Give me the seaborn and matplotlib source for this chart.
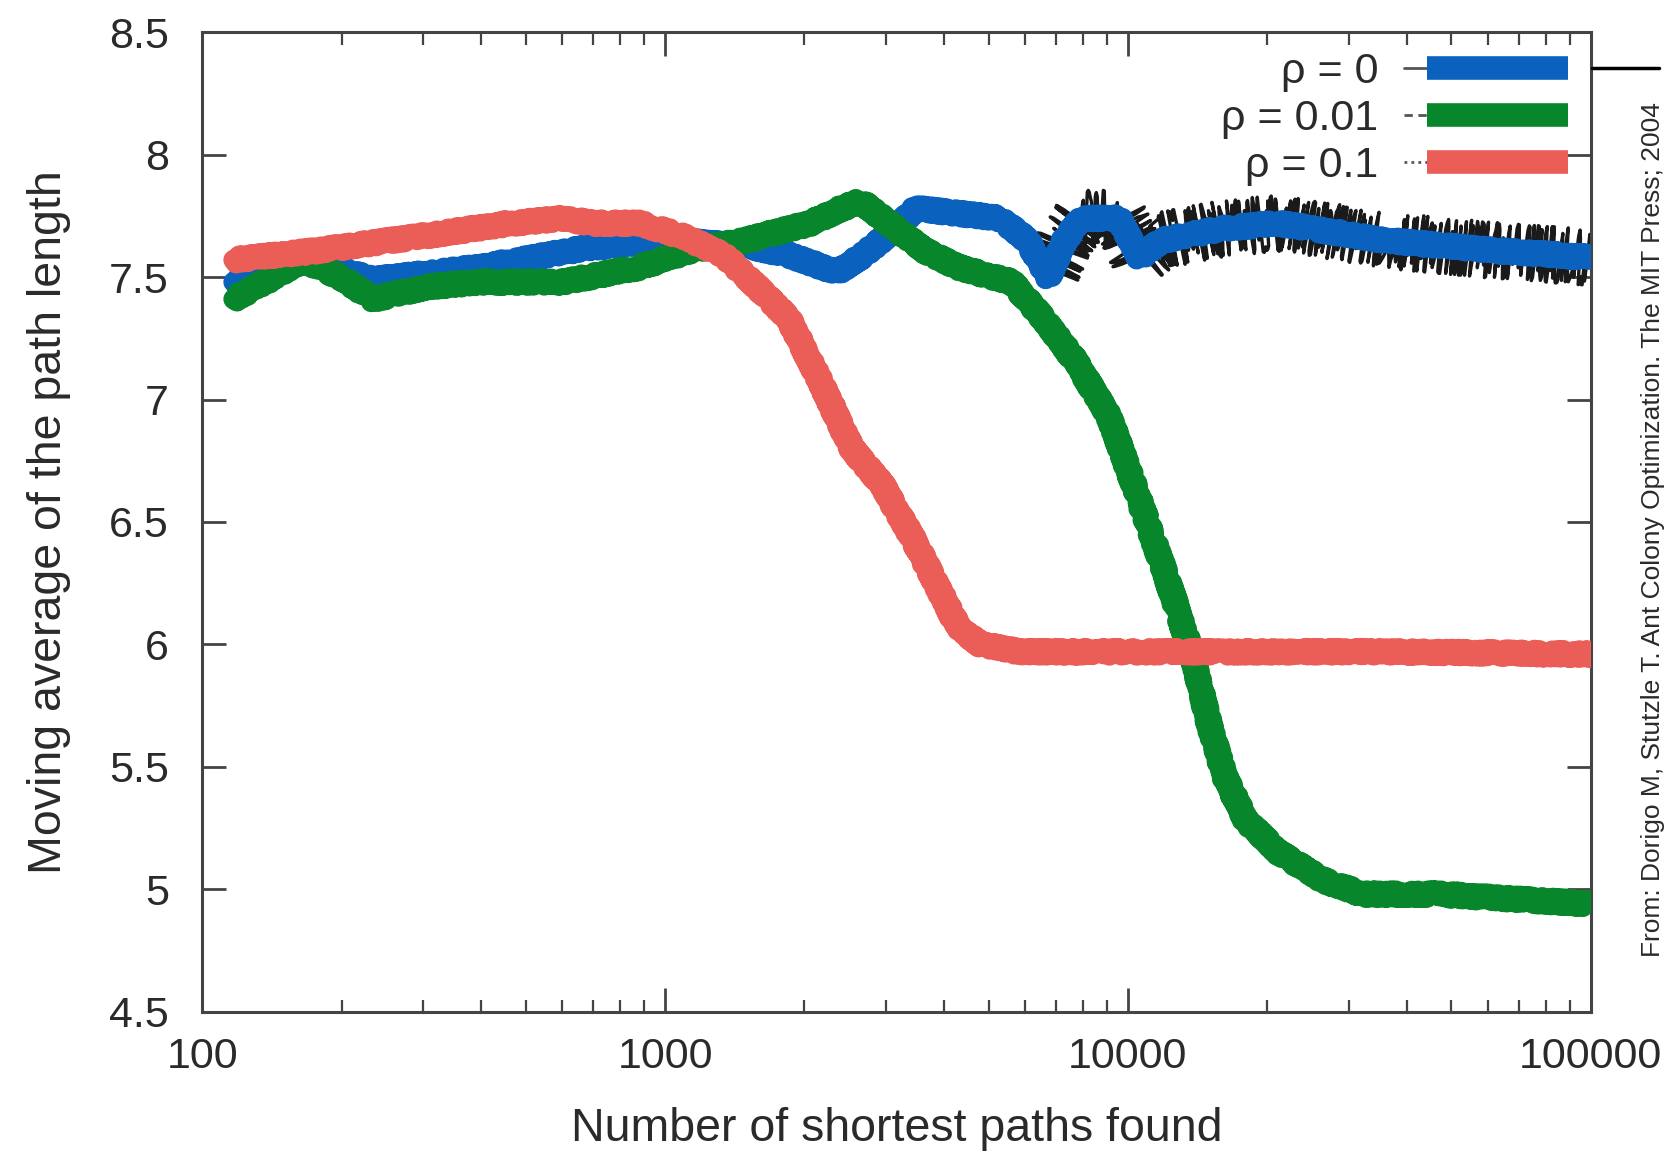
import matplotlib
matplotlib.use("Agg")
import matplotlib.pyplot as plt
from matplotlib.lines import Line2D
from matplotlib.legend_handler import HandlerTuple
import seaborn as sns
import pandas as pd

# values (x = number of shortest paths found)
x_rho0 = [117, 170, 234, 397, 677, 1000, 1490, 1850, 2350, 2680, 3150, 3480,
          4300, 5300, 6050, 6740, 7300, 7930, 9550, 10600, 11800, 16200,
          21200, 36000, 61000, 100000]
y_rho0 = [7.48, 7.57, 7.49, 7.54, 7.62, 7.65, 7.63, 7.59, 7.52, 7.59, 7.70,
          7.78, 7.76, 7.74, 7.65, 7.50, 7.65, 7.74, 7.74, 7.58, 7.65, 7.70,
          7.72, 7.65, 7.61, 7.58]

x_rho001 = [117, 137, 165, 199, 234, 305, 397, 600, 880, 1140, 1490, 2060,
            2400, 2650, 2950, 3620, 4300, 5600, 6570, 7750, 9100, 10000,
            11200, 12500, 13900, 15000, 16200, 18000, 21200, 26200, 32200,
            46800, 100000]
y_rho001 = [7.41, 7.48, 7.57, 7.50, 7.41, 7.46, 7.48, 7.48, 7.54, 7.61, 7.65,
            7.72, 7.78, 7.81, 7.74, 7.61, 7.54, 7.48, 7.33, 7.15, 6.93, 6.72,
            6.46, 6.20, 5.93, 5.67, 5.46, 5.28, 5.15, 5.04, 4.98, 4.98, 4.94]

x_rho01 = [117, 180, 305, 465, 600, 700, 880, 1080, 1340, 1580, 1850, 2170,
           2530, 2950, 3480, 3870, 4300, 4800, 5860, 12500, 36000, 100000]
y_rho01 = [7.57, 7.61, 7.67, 7.72, 7.74, 7.72, 7.72, 7.67, 7.59, 7.46, 7.33,
           7.07, 6.80, 6.65, 6.41, 6.24, 6.07, 6.00, 5.97, 5.97, 5.97, 5.96]

labels = ["\u03c1 = 0", "\u03c1 = 0.01", "\u03c1 = 0.1"]
colors = ["#0a62be", "#07862b", "#eb5e58"]
black_styles = ["-", (0, (3, 2)), (0, (1, 1.5))]

x_ticks = [100, 1000, 10000, 100000]
x_ticklabels = ["100", "1000", "10000", "100000"]
y_ticks = [4.5, 5, 5.5, 6, 6.5, 7, 7.5, 8, 8.5]
y_ticklabels = ["4.5", "5", "5.5", "6", "6.5", "7", "7.5", "8", "8.5"]

sns.set_style("ticks")
plt.rcParams["font.family"] = ["Liberation Sans", "DejaVu Sans"]
plt.rcParams["text.color"] = "#2a2a2a"
plt.rcParams["axes.labelcolor"] = "#2a2a2a"

series = [(x_rho0, y_rho0), (x_rho001, y_rho001), (x_rho01, y_rho01)]

fig = plt.figure(figsize=(16.71, 11.51), dpi=100)
ax = fig.add_axes([0.121, 0.121, 0.831, 0.851])

# original thin black curves underneath
for i, (xs, ys) in enumerate(series):
    df = pd.DataFrame({"x": xs, "y": ys})
    sns.lineplot(data=df, x="x", y="y", ax=ax, color="black", lw=1.8,
                 linestyle=black_styles[i], sort=False, zorder=2)
    ax.lines[-1].set_sketch_params(scale=4, length=6, randomness=6)

# the rho = 0 run is very noisy on the right-hand side
k = x_rho0.index(6740)
df = pd.DataFrame({"x": x_rho0[k:], "y": y_rho0[k:]})
sns.lineplot(data=df, x="x", y="y", ax=ax, color="#1a1a1a", lw=2.4,
             sort=False, zorder=2)
ax.lines[-1].set_sketch_params(scale=28, length=7, randomness=6)

# thick coloured overlay
for i, (xs, ys) in enumerate(series):
    df = pd.DataFrame({"x": xs, "y": ys})
    sns.lineplot(data=df, x="x", y="y", ax=ax, color=colors[i], lw=15,
                 sort=False, zorder=3 + i * 0.1)
    ax.lines[-1].set_sketch_params(scale=3.5, length=3, randomness=4)

ax.set_xscale("log")
ax.set_xlim(100, 100000)
ax.set_ylim(4.5, 8.5)
ax.set_xticks(x_ticks)
ax.set_xticklabels(x_ticklabels)
ax.set_yticks(y_ticks)
ax.set_yticklabels(y_ticklabels)
ax.minorticks_on()
ax.yaxis.set_minor_locator(matplotlib.ticker.NullLocator())
ax.tick_params(axis="both", which="major", direction="in", length=17,
               width=2, color="#444444", top=True, right=True,
               labelsize=31, labelcolor="#2a2a2a")
ax.tick_params(axis="x", which="major", pad=18)
ax.tick_params(axis="y", which="major", pad=24)
ax.tick_params(axis="x", which="minor", direction="in", length=9,
               width=1.6, color="#444444", top=True)
for sp in ax.spines.values():
    sp.set_visible(True)
    sp.set_linewidth(2.2)
    sp.set_color("#444444")

ax.set_xlabel("Number of shortest paths found", fontsize=33.5, labelpad=22)
ax.set_ylabel("Moving average of the path length", fontsize=33.5, labelpad=27)

# legend: short black sample followed by thick coloured stroke
handles = []
for i in range(3):
    blk = Line2D([], [], color="#555555", lw=2, linestyle=black_styles[i])
    col = Line2D([], [], color=colors[i], lw=17, solid_capstyle="butt")
    handles.append(tuple([blk] + [col] * 6))
ax.legend(handles, labels, loc="upper right", bbox_to_anchor=(1.002, 1.006),
          frameon=False, markerfirst=False, fontsize=31, handlelength=3.8,
          handletextpad=0.6, labelspacing=0.16, borderaxespad=0.2,
          handler_map={tuple: HandlerTuple(ndivide=7, pad=0)})

# leader line and source note on the right
fig.add_artist(Line2D([0.953, 0.993], [0.941, 0.941], color="black", lw=2.5,
                      transform=fig.transFigure))
fig.text(0.989, 0.54,
         "From: Dorigo M, Stutzle T. Ant Colony Optimization. The MIT Press; 2004",
         rotation=90, ha="center", va="center", fontsize=19, color="#2a2a2a")

fig.savefig("out.png", dpi=100, facecolor="white")
